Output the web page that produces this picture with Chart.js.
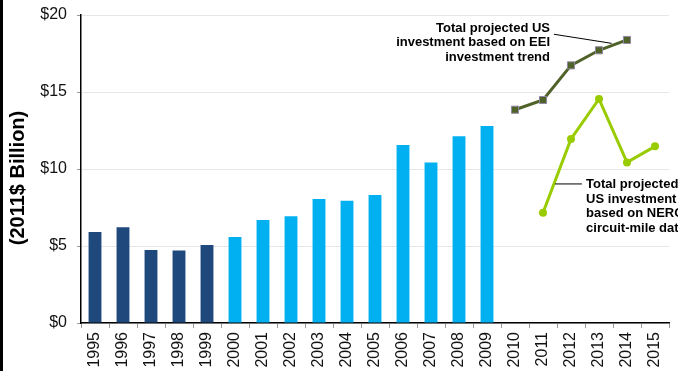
<!DOCTYPE html>
<html>
<head>
<meta charset="utf-8">
<script src="https://cdn.jsdelivr.net/npm/chart.js@4"></script>
<style>
  html, body { margin: 0; padding: 0; background: #fff; }
  #wrap { width: 678px; height: 371px; }
</style>
</head>
<body>
<div id="wrap"><canvas id="investChart" width="678" height="371"></canvas></div>
<script>
// years on the category axis
const years = ['1995','1996','1997','1998','1999','2000','2001','2002','2003','2004',
               '2005','2006','2007','2008','2009','2010','2011','2012','2013','2014','2015'];

// historical spend, 2011$ billion
const early = [5.91, 6.21, 4.74, 4.70, 5.06];                       // 1995-1999
const later = [5.58, 6.69, 6.93, 8.05, 7.94, 8.31, 11.56, 10.43, 12.12, 12.79]; // 2000-2009

// projections
const eeiYears = ['2010','2011','2012','2013','2014'];
const eeiValues = [13.85, 14.48, 16.73, 17.71, 18.38];
const nercYears = ['2011','2012','2013','2014','2015'];
const nercValues = [7.16, 11.95, 14.55, 10.43, 11.47];

const yTicks = [0, 5, 10, 15, 20];

// spread a short series over the full year list
function place(labels, values) {
    return years.map(y => {
        const i = labels.indexOf(y);
        return i < 0 ? null : values[i];
    });
}

const earlyData = place(years.slice(0, 5), early);
const laterData = place(years.slice(5, 15), later);

const FONT = '"Liberation Sans", Arial, sans-serif';

// callout texts, anchored in data units (category index, value)
const callouts = [
    { lines: ['Total projected US', 'investment based on EEI', 'investment trend'],
      at: [16.25, 19.14], align: 'right',
      leader: [[16.39, 18.75], [18.45, 18.16]] },
    { lines: ['Total projected', 'US investment', 'based on NERC', 'circuit-mile data'],
      at: [17.54, 9.0], align: 'left',
      leader: [[16.43, 9.03], [17.39, 9.03]] }
];

const decorations = {
    id: 'decorations',
    beforeDraw(chart) {
        const ctx = chart.ctx;
        ctx.save();
        ctx.fillStyle = '#fff';
        ctx.fillRect(0, 0, chart.width, chart.height);
        ctx.fillStyle = '#000';
        ctx.fillRect(0, 0, 3, chart.height);
        ctx.restore();
    },
    afterDraw(chart) {
        const ctx = chart.ctx;
        const xs = chart.scales.x, ys = chart.scales.y;
        ctx.save();

        // y axis title
        ctx.translate(18, (chart.chartArea.top + chart.chartArea.bottom) / 2 + 9);
        ctx.rotate(-Math.PI / 2);
        ctx.font = 'bold 20px ' + FONT;
        ctx.fillStyle = '#000';
        ctx.textAlign = 'center';
        ctx.textBaseline = 'middle';
        ctx.fillText('(2011$ Billion)', 0, 0);
        ctx.restore();

        ctx.save();
        ctx.font = 'bold 13px ' + FONT;
        ctx.fillStyle = '#000';
        ctx.textBaseline = 'middle';
        callouts.forEach(c => {
            const [a, b] = c.leader;
            ctx.strokeStyle = '#000';
            ctx.lineWidth = 1;
            ctx.beginPath();
            ctx.moveTo(xs.getPixelForValue(a[0]), ys.getPixelForValue(a[1]));
            ctx.lineTo(xs.getPixelForValue(b[0]), ys.getPixelForValue(b[1]));
            ctx.stroke();

            ctx.textAlign = c.align;
            const x = xs.getPixelForValue(c.at[0]);
            const y = ys.getPixelForValue(c.at[1]);
            c.lines.forEach((t, i) => ctx.fillText(t, x, y + i * 14.6));
        });
        ctx.restore();
    }
};

const ctx = document.getElementById('investChart').getContext('2d');
new Chart(ctx, {
    data: {
        labels: years,
        datasets: [
            {
                type: 'line',
                label: 'EEI trend',
                data: place(eeiYears, eeiValues),
                borderColor: '#4F6228',
                borderWidth: 3,
                pointStyle: 'rect',
                pointRadius: 5,
                pointBackgroundColor: '#4F6228',
                pointBorderColor: '#9287A6',
                pointBorderWidth: 1,
                spanGaps: false,
                order: 1
            },
            {
                type: 'line',
                label: 'NERC circuit-mile',
                data: place(nercYears, nercValues),
                borderColor: '#99CC00',
                borderWidth: 3,
                pointStyle: 'circle',
                pointRadius: 4,
                pointBackgroundColor: '#99CC00',
                pointBorderColor: '#99CC00',
                pointBorderWidth: 0,
                order: 1
            },
            {
                type: 'bar',
                label: '1995-1999',
                data: earlyData,
                backgroundColor: '#1F497D',
                grouped: false,
                barPercentage: 0.46,
                categoryPercentage: 1,
                order: 2
            },
            {
                type: 'bar',
                label: '2000-2009',
                data: laterData,
                backgroundColor: '#00B0F0',
                grouped: false,
                barPercentage: 0.46,
                categoryPercentage: 1,
                order: 2
            }
        ]
    },
    options: {
        responsive: false,
        animation: false,
        events: [],
        layout: { padding: { top: 15, right: 9, left: 0, bottom: 0 } },
        plugins: {
            legend: { display: false },
            tooltip: { enabled: false }
        },
        scales: {
            x: {
                offset: true,
                afterFit: s => { s.height = 48; s.paddingLeft = 0; s.paddingRight = 0; },
                border: { color: '#000', width: 1.5 },
                grid: {
                    offset: true,
                    drawOnChartArea: false,
                    drawTicks: true,
                    tickLength: 5,
                    tickColor: '#999'
                },
                ticks: {
                    minRotation: 90,
                    maxRotation: 90,
                    autoSkip: false,
                    padding: 4,
                    color: '#111',
                    font: { family: FONT, size: 16 }
                }
            },
            y: {
                min: 0,
                max: 20,
                // fixed gutter; let the layout padding alone set the top edge
                afterFit: s => { s.width = 81; s.paddingTop = 0; s.paddingBottom = 0; },
                afterBuildTicks: s => { s.ticks = yTicks.map(v => ({ value: v })); },
                border: { color: '#000', width: 1.5 },
                grid: {
                    color: '#e6e6e6',
                    lineWidth: 1,
                    drawTicks: true,
                    tickLength: 4,
                    tickColor: '#999'
                },
                ticks: {
                    padding: 10,
                    color: '#111',
                    font: { family: FONT, size: 16 },
                    callback: v => '$' + v
                }
            }
        }
    },
    plugins: [decorations]
});
</script>
</body>
</html>
